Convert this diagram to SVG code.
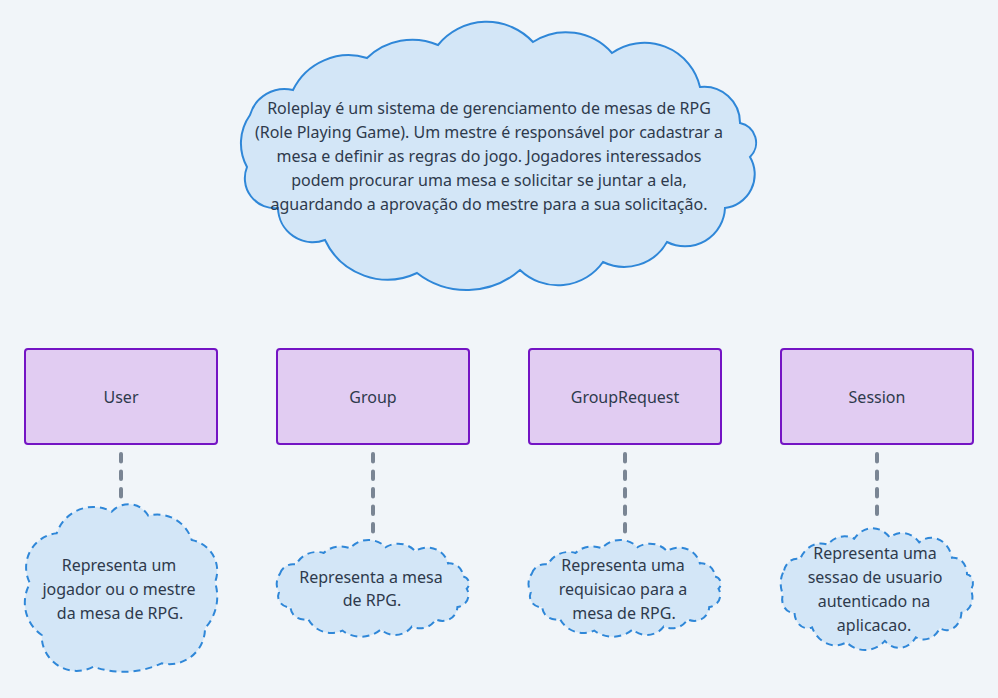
<svg xmlns="http://www.w3.org/2000/svg" width="998" height="698" viewBox="0 0 998 698">
<defs>
<style>
.bg{fill:#F1F5F9}
.cloud{fill:#D3E6F7;stroke:#2F87D8;stroke-width:2}
.dcloud{fill:#D3E6F7;stroke:#2F87D8;stroke-width:2;stroke-dasharray:7 5}
.box{fill:#E1CCF2;stroke:#7414C4;stroke-width:2}
.t{font-family:"Noto Sans","Liberation Sans",sans-serif;font-size:16px;fill:#2E3A4C;text-anchor:middle}
.conn{stroke:#7A8594;stroke-width:4;stroke-linecap:round;stroke-dasharray:7.5 10;fill:none}
</style>
<path id="wide" vector-effect="non-scaling-stroke" d="M 250 115 A 36 36 0 0 1 293 90 A 62 62 0 0 1 367 58 A 65 65 0 0 1 438 45 A 63 63 0 0 1 533 42 A 61 61 0 0 1 612 53 A 57 57 0 0 1 700 87 A 36 36 0 0 1 740 123 A 20 20 0 0 1 750 157 A 34 34 0 0 1 725 208 A 40 40 0 0 1 667 242 A 49 49 0 0 1 603 262 A 55 55 0 0 1 520 270 A 81 81 0 0 1 417 273 A 69 69 0 0 1 325 240 A 35 35 0 0 1 278 208 A 30 30 0 0 1 247 167 A 49 49 0 0 1 250 115 Z"/>
</defs>
<rect class="bg" x="0" y="0" width="998" height="698"/>

<g id="connectors">
<line class="conn" x1="121" y1="454" x2="121" y2="498"/>
<line class="conn" x1="373" y1="454" x2="373" y2="532"/>
<line class="conn" x1="625" y1="454" x2="625" y2="532"/>
<line class="conn" x1="877" y1="454" x2="877" y2="520"/>
</g>

<g id="roleplay">
<use href="#wide" class="cloud"/>
<text class="t" x="489" y="114">Roleplay é um sistema de gerenciamento de mesas de RPG</text>
<text class="t" x="489" y="138">(Role Playing Game). Um mestre é responsável por cadastrar a</text>
<text class="t" x="489" y="162">mesa e definir as regras do jogo. Jogadores interessados</text>
<text class="t" x="489" y="186">podem procurar uma mesa e solicitar se juntar a ela,</text>
<text class="t" x="489" y="210">aguardando a aprovação do mestre para a sua solicitação.</text>
</g>

<g id="user">
<rect class="box" x="25" y="349" width="192" height="95" rx="3"/>
<text class="t" x="121" y="403">User</text>
</g>
<g id="group">
<rect class="box" x="277" y="349" width="192" height="95" rx="3"/>
<text class="t" x="373" y="403">Group</text>
</g>
<g id="grouprequest">
<rect class="box" x="529" y="349" width="192" height="95" rx="3"/>
<text class="t" x="625" y="403">GroupRequest</text>
</g>
<g id="session">
<rect class="box" x="781" y="349" width="192" height="95" rx="3"/>
<text class="t" x="877" y="403">Session</text>
</g>

<g id="user_note">
<path class="dcloud" d="M 111.7 511.7 A 22.7 22.7 0 0 1 148.3 515.7 A 36 36 0 0 1 191.7 540 A 31.3 31.3 0 0 1 215 582.3 A 47 47 0 0 1 205 628.3 A 35.6 35.6 0 0 1 161.7 663.3 A 91 91 0 0 1 93.3 666.7 A 35 35 0 0 1 41.7 635 A 39.2 39.2 0 0 1 30 583.3 A 34.3 34.3 0 0 1 56.7 533.3 A 38.5 38.5 0 0 1 111.7 511.7 Z"/>
<text class="t" x="119" y="571">Representa um</text>
<text class="t" x="119" y="595">jogador ou o mestre</text>
<text class="t" x="120" y="619">da mesa de RPG.</text>
</g>

<g id="group_note">
<use href="#wide" class="dcloud" transform="translate(276.7 540) scale(0.3733 0.3608) translate(-241 -22)"/>
<text class="t" x="371" y="583">Representa a mesa</text>
<text class="t" x="372" y="606">de RPG.</text>
</g>

<g id="grouprequest_note">
<use href="#wide" class="dcloud" transform="translate(528.5 540) scale(0.3733 0.3608) translate(-241 -22)"/>
<text class="t" x="623" y="571">Representa uma</text>
<text class="t" x="623" y="595">requisicao para a</text>
<text class="t" x="624" y="619">mesa de RPG.</text>
</g>

<g id="session_note">
<use href="#wide" class="dcloud" transform="translate(780.7 528.3) scale(0.3733 0.4541) translate(-241 -22)"/>
<text class="t" x="875" y="559">Representa uma</text>
<text class="t" x="875" y="583">sessao de usuario</text>
<text class="t" x="874" y="607">autenticado na</text>
<text class="t" x="874" y="631">aplicacao.</text>
</g>
</svg>
